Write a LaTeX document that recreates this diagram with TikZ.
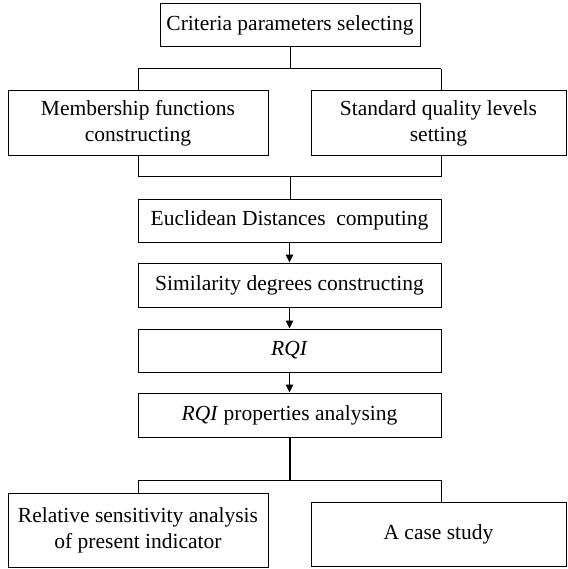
\documentclass[tikz,border=0pt]{standalone}
\usepackage{fontspec}
\setmainfont{Liberation Serif}
\usetikzlibrary{arrows.meta}
\begin{document}
\begin{tikzpicture}[x=1pt,y=-1pt,
  box/.style={draw,line width=1pt,inner sep=0pt,align=center,
    font=\fontsize{21.5}{26}\selectfont},
  link/.style={line width=1pt},
  arr/.style={line width=1pt,-{Triangle[length=8pt,width=7.5pt]}}]
\useasboundingbox (0,0) rectangle (567,569);
% boxes
\node[box,minimum width=260pt,minimum height=43pt] (top) at (290,25.5) {Criteria parameters selecting};
\node[box,minimum width=260pt,minimum height=65pt] (mf) at (138,123.5) {Membership functions\\constructing};
\node[box,minimum width=255pt,minimum height=65pt] (sq) at (438.5,123.5) {Standard quality levels\\setting};
\node[box,minimum width=303pt,minimum height=43pt] (eu) at (289.5,220.5) {Euclidean Distances~ computing};
\node[box,minimum width=303pt,minimum height=44pt] (sim) at (289.5,285) {Similarity degrees constructing};
\node[box,minimum width=303pt,minimum height=43pt] (rqi) at (289.5,350.5) {\textit{RQI}};
\node[box,minimum width=303pt,minimum height=44pt] (prop) at (289.5,415) {\textit{RQI} properties analysing};
\node[box,minimum width=260pt,minimum height=74pt] (rel) at (138,530) {Relative sensitivity analysis\\of present indicator};
\node[box,minimum width=255pt,minimum height=64pt] (cs) at (438.5,534) {A case study};
% junctions
\coordinate (j1) at (290,69);
\coordinate (j1l) at (138,69);
\coordinate (j1r) at (441,69);
\coordinate (j2) at (290,177);
\coordinate (j2l) at (138,177);
\coordinate (j2r) at (441,177);
\coordinate (j3) at (290,480);
\coordinate (j3l) at (138,480);
\coordinate (j3r) at (441,480);
% connectors
\draw[link] (top.south) -- (j1);
\draw[link] (j1l) -- (j1r);
\draw[link] (j1l) -- (mf.north);
\draw[link] (j1r) -- (j1r |- sq.north);
\draw[link] (mf.south) -- (j2l);
\draw[link] (j2r |- sq.south) -- (j2r);
\draw[link] (j2l) -- (j2r);
\draw[link] (j2) -- (j2 |- eu.north);
\draw[arr] (eu.south) -- (sim.north);
\draw[arr] (sim.south) -- (rqi.north);
\draw[arr] (rqi.south) -- (prop.north);
\draw[line width=2pt] (prop.south) -- (j3 |- prop.south) -- (j3);
\draw[link] (j3l) -- (j3r);
\draw[link] (j3l) -- (rel.north);
\draw[link] (j3r) -- (j3r |- cs.north);
\end{tikzpicture}
\end{document}
